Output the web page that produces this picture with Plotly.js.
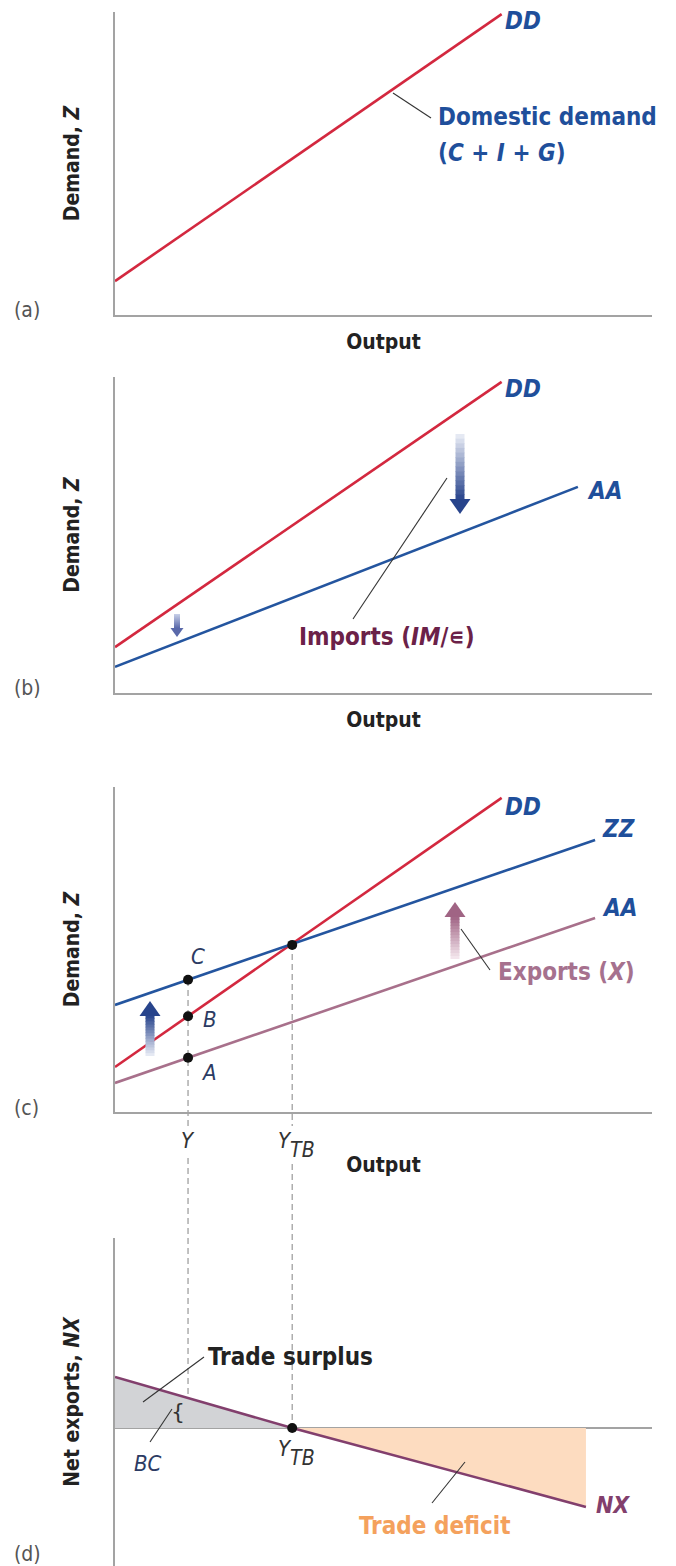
<!DOCTYPE html>
<html>
<head>
<meta charset="utf-8">
<script src="https://cdn.plot.ly/plotly-3.0.1.min.js"></script>
<style>
  html, body { margin: 0; padding: 0; background: #ffffff; }
  #chart { width: 676px; height: 1566px; }
</style>
</head>
<body>
<div id="chart"></div>
<script>
// ---------------- DATA ----------------
// Panel (a): domestic demand
const outputA = [0, 7.2];
const domesticDemandA = [1.13, 10.03];

// Panel (b): domestic demand and demand for domestic goods
const outputB_DD = [0, 7.2];
const domesticDemandB = [1.53, 10.37];
const outputB_AA = [0, 8.62];
const domesticGoodsB = [0.87, 6.87];

// Panel (c): DD, ZZ, AA
const outputC_DD = [0, 7.2];
const domesticDemandC = [1.5, 10.47];
const outputC_ZZ = [0, 8.94];
const totalDemandC = [3.57, 9.07];
const outputC_AA = [0, 8.94];
const domesticGoodsC = [0.97, 6.47];

// Points A, B, C and the trade-balance point in (c)
const pointLabels = ['A', 'B', 'C'];
const pointOutput = [1.36, 1.36, 1.36, 3.3];
const pointDemand = [1.81, 3.19, 4.41, 5.57];

// Output tick labels (main letter, subscript)
const outputTickVals = [1.36, 3.3];
const outputTickMain = ['Y', 'Y'];
const outputTickSub = ['', 'TB'];

// Panel (d): net exports
const outputD = [0, 3.3, 8.77];
const netExports = [1.7, 0, -2.63];

// ---------------- STYLE ----------------
const W = 676, H = 1566;
const FONT = '"Liberation Sans Narrow", "Arial Narrow", "DejaVu Sans Condensed", "Liberation Sans", sans-serif';
const RED = '#d3283f';
const BLUE = '#24559f';
const LBL_BLUE = '#1f4f9b';
const PINK = '#a8708b';
const NXC = '#823f6d';
const AXIS = '#a3a3a3';

const px = x => x / W;
const py = y => 1 - y / H;

const X0 = 115, X1 = 652;
const xDomain = [px(X0), px(X1)];
const UNIT = 30; // vertical pixels per unit
const xToPx = v => X0 + v * (X1 - X0) / 10;

function yAx(topPx, botPx, zeroPx, extra) {
  return Object.assign({
    domain: [py(botPx), py(topPx)],
    range: [-(botPx - zeroPx) / UNIT, (zeroPx - topPx) / UNIT],
    showgrid: false, zeroline: false, showticklabels: false, ticks: '',
    showline: true, linecolor: AXIS, linewidth: 2, fixedrange: true
  }, extra || {});
}
function xAx(anchor, extra) {
  return Object.assign({
    domain: xDomain, range: [0, 10], anchor: anchor,
    showgrid: false, zeroline: false, showticklabels: false, ticks: '',
    showline: true, linecolor: AXIS, linewidth: 2, fixedrange: true
  }, extra || {});
}
const titleFont = { family: FONT, size: 21, color: '#222' };

function line(x, y, xa, ya, color, w) {
  return { type: 'scatter', mode: 'lines', x: x, y: y, xaxis: xa, yaxis: ya,
           line: { color: color, width: w || 2.6 }, hoverinfo: 'skip', showlegend: false };
}

const traces = [
  line(outputA, domesticDemandA, 'x', 'y', RED),
  line(outputB_DD, domesticDemandB, 'x2', 'y2', RED),
  line(outputB_AA, domesticGoodsB, 'x2', 'y2', BLUE),
  line(outputC_DD, domesticDemandC, 'x3', 'y3', RED),
  line(outputC_ZZ, totalDemandC, 'x3', 'y3', BLUE),
  line(outputC_AA, domesticGoodsC, 'x3', 'y3', PINK),
  // trade surplus area
  { type: 'scatter', mode: 'lines', xaxis: 'x4', yaxis: 'y4',
    x: [outputD[0], outputD[1], outputD[0]], y: [netExports[0], netExports[1], 0],
    fill: 'toself', fillcolor: '#d2d3d6', line: { width: 0 }, hoverinfo: 'skip', showlegend: false },
  // trade deficit area
  { type: 'scatter', mode: 'lines', xaxis: 'x4', yaxis: 'y4',
    x: [outputD[1], outputD[2], outputD[2]], y: [netExports[1], netExports[2], 0],
    fill: 'toself', fillcolor: '#fddcc0', line: { width: 0 }, hoverinfo: 'skip', showlegend: false },
  line(outputD, netExports, 'x4', 'y4', NXC),
  { type: 'scatter', mode: 'markers', x: pointOutput, y: pointDemand, xaxis: 'x3', yaxis: 'y3',
    marker: { color: '#111', size: 10 }, hoverinfo: 'skip', showlegend: false },
  { type: 'scatter', mode: 'markers', x: [outputD[1]], y: [netExports[1]], xaxis: 'x4', yaxis: 'y4',
    marker: { color: '#111', size: 10 }, hoverinfo: 'skip', showlegend: false }
];

// ---------------- SHAPES ----------------
const shapes = [];
function seg(x0, y0, x1, y1, color, w, dash) {
  shapes.push({ type: 'line', xref: 'paper', yref: 'paper', x0: px(x0), y0: py(y0), x1: px(x1), y1: py(y1),
                line: { color: color || '#333', width: w || 1.1, dash: dash || 'solid' } });
}
function mix(c1, c2, t) {
  return 'rgb(' + c1.map((v, i) => Math.round(v + (c2[i] - v) * t)).join(',') + ')';
}
// gradient arrow: tail -> tip (vertical)
function gradArrow(x, tail, tip, shaftW, headW, headL, dark, light) {
  const dir = tip > tail ? 1 : -1;
  const base = tip - dir * headL;
  const n = 14;
  for (let i = 0; i < n; i++) {
    const a = tail + (base - tail) * i / n;
    const b = tail + (base - tail) * (i + 1) / n + dir * 0.6;
    shapes.push({ type: 'rect', xref: 'paper', yref: 'paper',
      x0: px(x - shaftW / 2), x1: px(x + shaftW / 2), y0: py(a), y1: py(b),
      fillcolor: mix(light, dark, (i + 0.5) / n), line: { width: 0 } });
  }
  shapes.push({ type: 'path', xref: 'paper', yref: 'paper',
    path: 'M ' + px(x - headW / 2) + ' ' + py(base) + ' L ' + px(x + headW / 2) + ' ' + py(base) +
          ' L ' + px(x) + ' ' + py(tip) + ' Z',
    fillcolor: mix(light, dark, 1), line: { width: 0 } });
}

// leader lines
seg(393, 93, 431, 118);
seg(447, 478, 353, 619);
seg(461, 929, 490, 970);
seg(204, 1357, 143, 1402);
seg(150, 1442, 172, 1409);
seg(432, 1503, 465, 1462);

// dashed guides from Y and Y_TB (in output units on x3)
function dashV(xv, y0, y1) {
  shapes.push({ type: 'line', xref: 'x3', yref: 'paper', x0: xv, x1: xv, y0: py(y0), y1: py(y1),
                line: { color: '#a0a0a0', width: 1.3, dash: '6px,4px' }, layer: 'below' });
}
dashV(outputTickVals[0], 980, 1126);
dashV(outputTickVals[0], 1158, 1428);
dashV(outputTickVals[1], 944, 1126);
dashV(outputTickVals[1], 1164, 1428);

// arrows
gradArrow(460, 434, 514, 9, 21, 15, [40, 68, 140], [236, 239, 247]);
gradArrow(177, 614, 637, 6, 13, 9, [90, 105, 170], [200, 208, 232]);
gradArrow(150, 1056, 1001, 9, 21, 15, [40, 68, 140], [236, 239, 247]);
gradArrow(455, 959, 902, 9, 21, 15, [160, 100, 132], [246, 234, 240]);

// ---------------- ANNOTATIONS ----------------
const annotations = [];
function ann(text, x, y, o) {
  o = o || {};
  annotations.push({ text: text, xref: 'paper', yref: 'paper', x: px(x), y: py(y),
    xanchor: o.xa || 'left', yanchor: 'middle', showarrow: false,
    font: { family: o.family || FONT, size: o.size || 23, color: o.color || '#222' } });
}
// panel letters
ann('(a)', 12, 310, { size: 21, color: '#555' });
ann('(b)', 12, 688, { size: 21, color: '#555' });
ann('(c)', 12, 1108, { size: 21, color: '#555' });
ann('(d)', 12, 1554, { size: 21, color: '#555' });

// curve labels
ann('<b><i>DD</i></b>', 503, 21, { color: LBL_BLUE, size: 24 });
ann('<b>Domestic demand</b>', 436, 117, { color: LBL_BLUE, size: 24 });
ann('<b>(<i>C</i> + <i>I</i> + <i>G</i>)</b>', 436, 153, { color: LBL_BLUE, size: 24 });

ann('<b><i>DD</i></b>', 503, 389, { color: LBL_BLUE, size: 24 });
ann('<b><i>AA</i></b>', 585, 491, { color: LBL_BLUE, size: 24 });
ann('<b>Imports (<i>IM</i>/∊)</b>', 387, 637, { color: '#6b2148', size: 24, xa: 'center' });

ann('<b><i>DD</i></b>', 503, 807, { color: LBL_BLUE, size: 24 });
ann('<b><i>ZZ</i></b>', 600, 829, { color: LBL_BLUE, size: 24 });
ann('<b><i>AA</i></b>', 600, 908, { color: LBL_BLUE, size: 24 });
ann('<b>Exports (<i>X</i>)</b>', 566, 972, { color: '#a6718e', size: 24, xa: 'center' });

// point labels (from pointLabels)
const ptLabelPos = [[209, 1072], [210, 1019], [198, 956]];
for (let i = 0; i < pointLabels.length; i++) {
  ann('<i>' + pointLabels[i] + '</i>', ptLabelPos[i][0], ptLabelPos[i][1], { color: '#2c3b63', size: 22, xa: 'center' });
}
// output tick labels: main letter with lowered subscript (single text)
function tickLabel(i, yMain) {
  const xc = xToPx(outputTickVals[i]);
  if (outputTickSub[i]) {
    ann('<i>' + outputTickMain[i] + '<span style="baseline-shift:-9px;font-size:21px">' +
        outputTickSub[i] + '</span></i>', xc + 4, yMain + 6, { color: '#333', size: 22, xa: 'center' });
  } else {
    ann('<i>' + outputTickMain[i] + '</i>', xc, yMain, { color: '#333', size: 22, xa: 'center' });
  }
}
tickLabel(0, 1140);
tickLabel(1, 1139);

// panel (d)
ann('<b>Trade surplus</b>', 206, 1357, { color: '#222', size: 24 });
ann('<i>BC</i>', 148, 1463, { color: '#2c3b63', size: 22, xa: 'center' });
ann('{', 178, 1411, { color: '#333', size: 22, xa: 'center', family: 'DejaVu Sans' });
tickLabel(1, 1447);
ann('<b><i>NX</i></b>', 594, 1505, { color: NXC, size: 23 });
ann('<b>Trade deficit</b>', 435, 1526, { color: '#f4a15d', size: 24, xa: 'center' });

// ---------------- LAYOUT ----------------
const layout = {
  width: W, height: H,
  margin: { l: 0, r: 0, t: 0, b: 0 },
  paper_bgcolor: '#ffffff', plot_bgcolor: 'rgba(0,0,0,0)',
  showlegend: false,
  font: { family: FONT },
  xaxis: xAx('y', { title: { text: '<b>Output</b>', font: titleFont, standoff: 18 } }),
  yaxis: yAx(12, 315, 315, { title: { text: '<b>Demand, <i>Z</i></b>', font: titleFont, standoff: 28 } }),
  xaxis2: xAx('y2', { title: { text: '<b>Output</b>', font: titleFont, standoff: 18 } }),
  yaxis2: yAx(377, 693, 693, { title: { text: '<b>Demand, <i>Z</i></b>', font: titleFont, standoff: 28 } }),
  xaxis3: xAx('y3', { title: { text: '<b>Output</b>', font: titleFont, standoff: 44 } }),
  yaxis3: yAx(787, 1112, 1112, { title: { text: '<b>Demand, <i>Z</i></b>', font: titleFont, standoff: 28 } }),
  xaxis4: xAx('y4', { showline: false }),
  yaxis4: yAx(1238, 1566, 1428, { zeroline: true, zerolinecolor: AXIS, zerolinewidth: 2,
    title: { text: '<b>Net exports, <i>NX</i></b>', font: titleFont, standoff: 28 } }),
  shapes: shapes,
  annotations: annotations
};

Plotly.newPlot('chart', traces, layout, { displayModeBar: false, staticPlot: true });
</script>
</body>
</html>
